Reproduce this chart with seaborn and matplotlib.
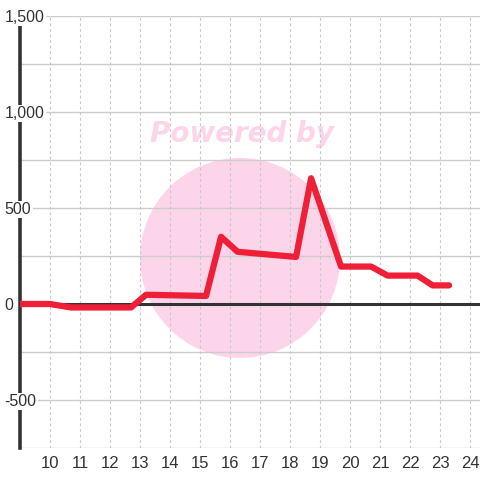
import pandas as pd
import matplotlib.pyplot as plt
import matplotlib.patches as mpatches
from matplotlib.ticker import FixedLocator, FuncFormatter
import seaborn as sns

# data
hours = [9.0, 10.0, 10.7, 12.7, 13.2, 15.2, 15.7, 16.25, 18.2, 18.7, 19.7, 20.7, 21.25, 22.25, 22.75, 23.3]
values = [0, 0, -18, -18, 48, 42, 350, 272, 245, 655, 195, 195, 148, 148, 97, 97]
x_ticks = list(range(10, 25))
y_labels = [-500, 0, 500, 1000, 1500]
y_grid = [-750, -500, -250, 0, 250, 500, 750, 1000, 1250, 1500]

df = pd.DataFrame({'hour': hours, 'value': values})

sns.set_style('white')
plt.rcParams['font.family'] = ['Liberation Sans', 'DejaVu Sans']

fig = plt.figure(figsize=(4.8, 4.8), dpi=100)
ax = fig.add_axes([20 / 480, 32 / 480, 460 / 480, 432 / 480])
ax.set_facecolor('none')

# watermark
fig.patches.append(mpatches.Circle((240 / 480, 1 - 258 / 480), 100 / 480, transform=fig.transFigure,
                                   facecolor='#fcd5ea', edgecolor='none', zorder=-1))
fig.text(242 / 480, 1 - 134 / 480, 'Powered by', color='#fcd5ea', fontsize=20, fontweight='bold',
         fontstyle='italic', ha='center', va='center', family='DejaVu Sans', zorder=-1)

sns.lineplot(data=df, x='hour', y='value', color='#ee1f37', linewidth=4.5, ax=ax, zorder=6)
ax.axhline(0, color='#333333', linewidth=2.2, zorder=5)

ax.set_xlim(9.0, 24.33)
ax.set_ylim(-750, 1500)

for g in y_grid:
    ax.axhline(g, color='#cccccc', linewidth=1, zorder=1)
for t in x_ticks:
    ax.axvline(t, color='#c8c8c8', linewidth=0.8, linestyle=(0, (2.5, 2.5)), zorder=1)

for s in ['top', 'right', 'bottom']:
    ax.spines[s].set_visible(False)
ax.spines['left'].set_color('#333333')
ax.spines['left'].set_linewidth(2.6)
ax.spines['left'].set_zorder(2)

ax.xaxis.set_major_locator(FixedLocator(x_ticks))
ax.yaxis.set_major_locator(FixedLocator(y_labels))
ax.yaxis.set_major_formatter(FuncFormatter(lambda v, p: f'{int(v):,}'))
ax.tick_params(axis='x', length=0, pad=6, labelsize=12, labelcolor='#333333')
ax.tick_params(axis='y', length=0, pad=11, labelsize=11.5, labelcolor='#333333')
for lab in ax.get_yticklabels():
    lab.set_ha('left')
    lab.set_bbox(dict(facecolor='white', edgecolor='none', pad=1))
ax.yaxis.set_zorder(3)
ax.set_xlabel('')
ax.set_ylabel('')

fig.savefig('out.png', dpi=100)
